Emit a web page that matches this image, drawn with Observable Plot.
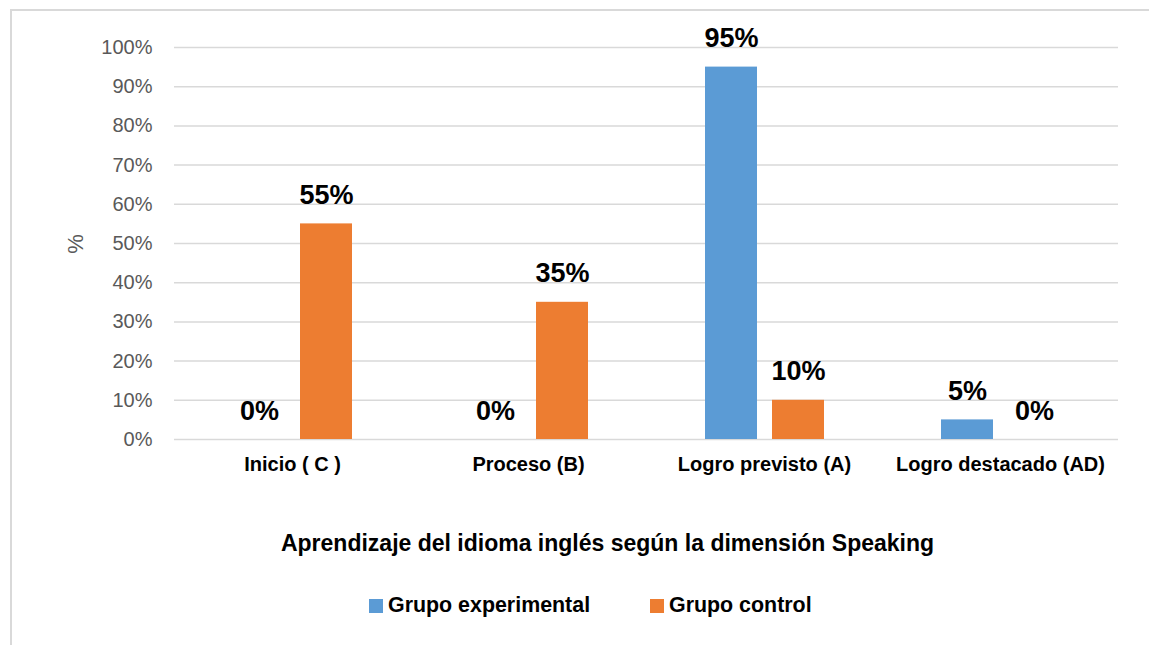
<!DOCTYPE html>
<html>
<head>
<meta charset="utf-8">
<script src="https://cdn.jsdelivr.net/npm/d3@7"></script>
<script src="https://cdn.jsdelivr.net/npm/@observablehq/plot@0.6"></script>
<style>
  html, body { margin: 0; padding: 0; background: #fff; }
  body { width: 1149px; height: 645px; position: relative; overflow: hidden; font-family: "Liberation Sans", Arial, sans-serif; }
  #frame { position: absolute; left: 10px; top: 9px; width: 1160px; height: 660px; border: 2px solid #d9d9d9; box-sizing: border-box; }
  #chart { position: absolute; left: 0; top: 0; }
  #xtitle { position: absolute; left: 0; width: 1215px; top: 530px; text-align: center; font-weight: bold; font-size: 23px; color: #000; }
  #legend { position: absolute; left: 0; top: 593px; width: 1149px; font-weight: bold; font-size: 21.4px; color: #000; }
  .item { position: absolute; top: 0; display: flex; align-items: center; white-space: nowrap; }
  .sw { width: 14px; height: 14px; margin-right: 5px; display: inline-block; }
  #ylabel { position: absolute; left: 66px; top: 231px; font-size: 22px; color: #595959; transform: rotate(-90deg); transform-origin: center; }
</style>
</head>
<body>
<div id="frame"></div>
<div id="chart"></div>
<div id="ylabel">%</div>
<div id="xtitle"></div>
<div id="legend"></div>
<script>
const categories = ["Inicio ( C )", "Proceso (B)", "Logro previsto (A)", "Logro destacado (AD)"];
const seriesNames = ["Grupo experimental", "Grupo control"];
const seriesColors = ["#5B9BD5", "#ED7D31"];
const experimental = [0, 0, 0.95, 0.05];
const control = [0.55, 0.35, 0.10, 0];
const yTicks = [0, 0.1, 0.2, 0.3, 0.4, 0.5, 0.6, 0.7, 0.8, 0.9, 1.0];
const xTitle = "Aprendizaje del idioma inglés según la dimensión Speaking";

const data = [];
categories.forEach((c, i) => {
  data.push({cat: c, series: seriesNames[0], value: experimental[i]});
  data.push({cat: c, series: seriesNames[1], value: control[i]});
});

const fmt = d3.format(".0%");

const plot = Plot.plot({
  width: 1149,
  height: 500,
  marginLeft: 174,
  marginRight: 31,
  marginTop: 47,
  marginBottom: 61,
  style: {fontFamily: "'Liberation Sans', Arial, sans-serif", background: "transparent"},
  fx: {domain: categories, padding: 0, label: null},
  x: {domain: seriesNames, paddingInner: 0.224, paddingOuter: 0.873, axis: null},
  y: {domain: [0, 1], label: null},
  color: {domain: seriesNames, range: seriesColors},
  marks: [
    Plot.gridY(yTicks, {stroke: "#d9d9d9", strokeOpacity: 1, strokeWidth: 1.5}),
    Plot.axisY(yTicks, {tickSize: 0, tickPadding: 22, tickFormat: fmt, fontSize: 20, fill: "#595959", label: null}),
    Plot.axisFx({anchor: "bottom", tickSize: 0, tickPadding: 17, fontSize: 20, fontWeight: "bold", fill: "#000", label: null}),
    Plot.barY(data, {fx: "cat", x: "series", y: "value", fill: "series"}),
    Plot.text(data, {fx: "cat", x: "series", y: "value", text: d => fmt(d.value), dy: -20, lineAnchor: "bottom", fontSize: 27, fontWeight: "bold", fill: "#000"})
  ]
});
document.getElementById("chart").appendChild(plot);

document.getElementById("xtitle").textContent = xTitle;

const legend = document.getElementById("legend");
const lefts = [369, 650];
seriesNames.forEach((s, i) => {
  const item = document.createElement("div");
  item.className = "item";
  item.style.left = lefts[i] + "px";
  const sw = document.createElement("span");
  sw.className = "sw";
  sw.style.background = seriesColors[i];
  const t = document.createElement("span");
  t.textContent = s;
  item.appendChild(sw);
  item.appendChild(t);
  legend.appendChild(item);
});
</script>
</body>
</html>
